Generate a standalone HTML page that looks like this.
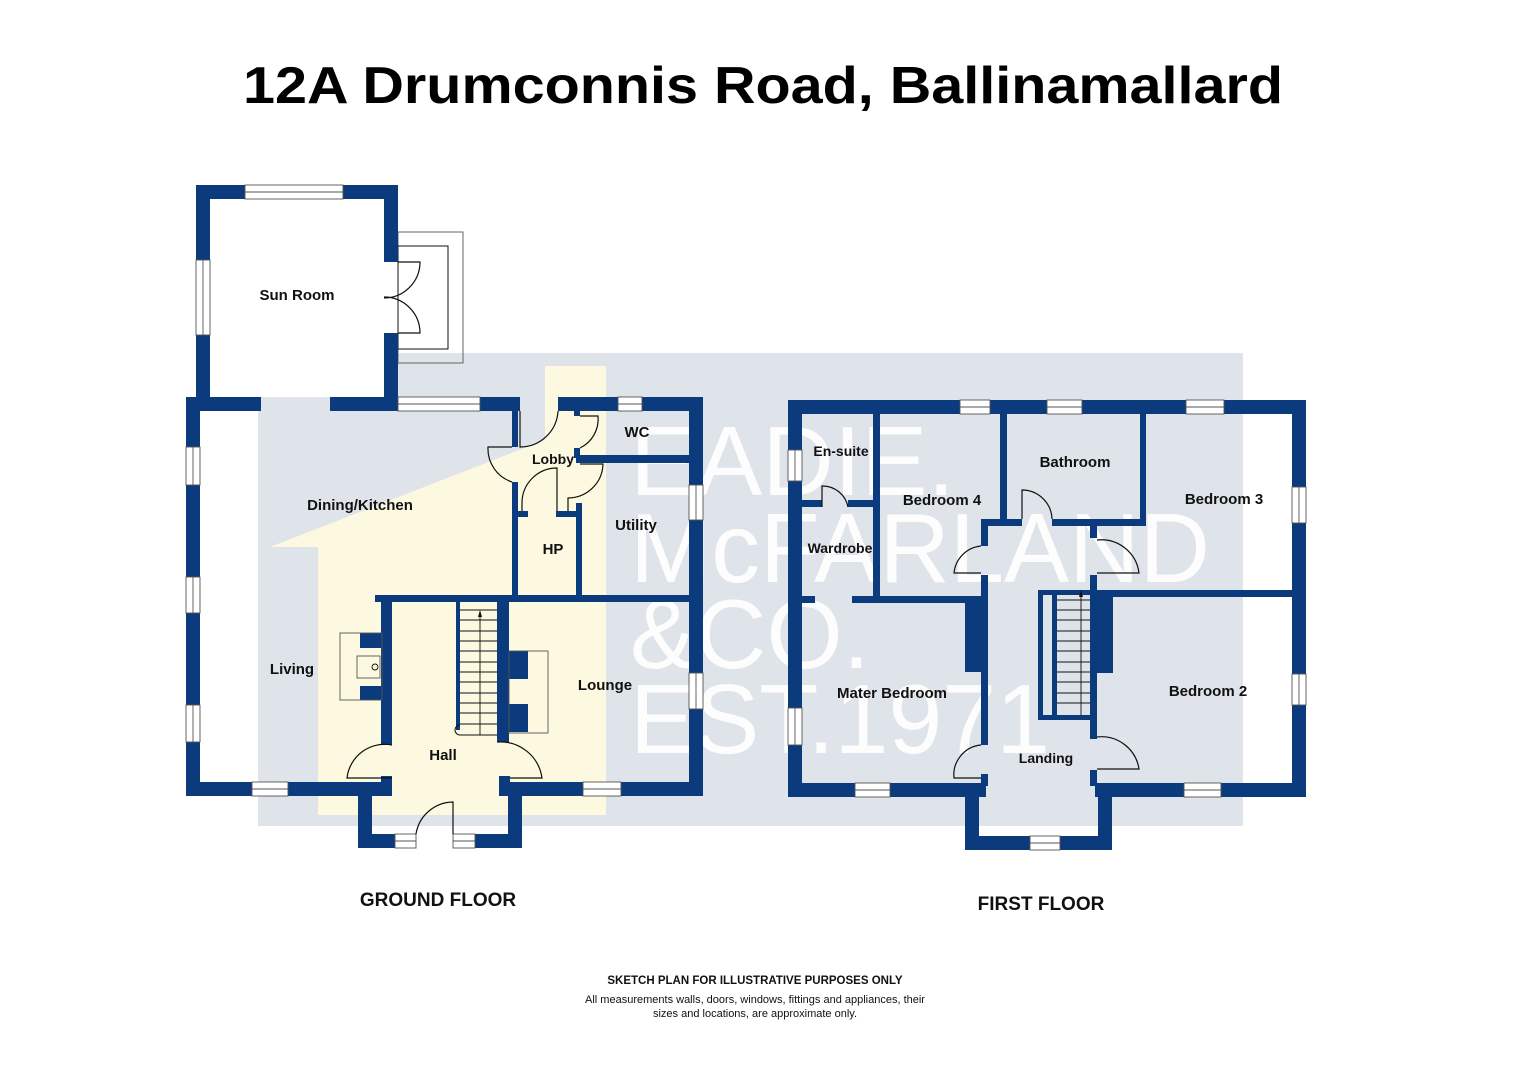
<!DOCTYPE html>
<html><head><meta charset="utf-8"><style>
html,body{margin:0;padding:0;background:#fff;}
svg{display:block;}
text{font-family:"Liberation Sans",Arial,sans-serif;}
</style></head><body>
<svg width="1528" height="1080" viewBox="0 0 1528 1080" xmlns="http://www.w3.org/2000/svg">
<rect width="1528" height="1080" fill="#fff"/>
<rect x="258" y="353" width="985" height="473" fill="#dfe3ea"/>
<polygon points="270,547 318,547 318,815 606,815 606,366 545,366 545,440" fill="#fdf9e1"/>
<rect x="210" y="199" width="174" height="198" fill="#fff"/>
<rect x="200" y="411" width="58" height="371" fill="#fff"/>
<rect x="1244" y="414" width="48" height="369" fill="#fff"/>
<g fill="#fff" font-size="98" opacity="0.95">
<text x="630" y="495" textLength="325" lengthAdjust="spacingAndGlyphs">EADIE.</text>
<text x="630" y="582" textLength="580" lengthAdjust="spacingAndGlyphs">McFARLAND</text>
<text x="630" y="668" textLength="240" lengthAdjust="spacingAndGlyphs">&amp;CO.</text>
<text x="630" y="753" textLength="420" lengthAdjust="spacingAndGlyphs">EST.1971</text>
</g>
<g fill="none" stroke="#666" stroke-width="1">
<rect x="398" y="232" width="65" height="131"/>
<rect x="398" y="246" width="50" height="103" stroke="#111"/>
</g>
<g fill="#0b3b7c">
<rect x="196" y="185" width="202" height="14"/>
<rect x="196" y="185" width="14" height="226"/>
<rect x="384" y="185" width="14" height="77"/>
<rect x="384" y="333" width="14" height="78"/>
<rect x="186" y="397" width="75" height="14"/>
<rect x="330" y="397" width="190" height="14"/>
<rect x="558" y="397" width="145" height="14"/>
<rect x="186" y="397" width="14" height="399"/>
<rect x="689" y="397" width="14" height="399"/>
<rect x="186" y="782" width="206" height="14"/>
<rect x="499" y="782" width="204" height="14"/>
<rect x="358" y="782" width="14" height="66"/>
<rect x="508" y="782" width="14" height="66"/>
<rect x="358" y="834" width="58" height="14"/>
<rect x="453" y="834" width="69" height="14"/>
<rect x="375" y="595" width="328" height="7"/>
<rect x="381" y="595" width="11" height="150"/>
<rect x="381" y="776" width="11" height="10"/>
<rect x="456" y="600" width="4" height="130"/>
<rect x="497" y="595" width="12" height="147"/>
<rect x="499" y="776" width="11" height="10"/>
<rect x="360" y="633" width="22" height="15"/>
<rect x="360" y="686" width="22" height="14"/>
<rect x="509" y="651" width="19" height="28"/>
<rect x="509" y="704" width="19" height="28"/>
<rect x="512" y="411" width="6" height="36"/>
<rect x="512" y="482" width="6" height="113"/>
<rect x="574" y="411" width="6" height="5"/>
<rect x="574" y="448" width="6" height="10"/>
<rect x="576" y="455" width="127" height="8"/>
<rect x="576" y="503" width="6" height="92"/>
<rect x="518" y="511" width="10" height="6"/>
<rect x="556" y="511" width="26" height="6"/>
<rect x="788" y="400" width="518" height="14"/>
<rect x="788" y="400" width="14" height="397"/>
<rect x="1292" y="400" width="14" height="397"/>
<rect x="788" y="783" width="198" height="14"/>
<rect x="1095" y="783" width="211" height="14"/>
<rect x="965" y="783" width="14" height="67"/>
<rect x="1098" y="783" width="14" height="67"/>
<rect x="965" y="836" width="147" height="14"/>
<rect x="873" y="414" width="7" height="189"/>
<rect x="802" y="500" width="20" height="7"/>
<rect x="848" y="500" width="32" height="7"/>
<rect x="802" y="596" width="13" height="7"/>
<rect x="852" y="596" width="134" height="7"/>
<rect x="1000" y="414" width="7" height="112"/>
<rect x="981" y="519" width="41" height="7"/>
<rect x="1052" y="519" width="94" height="7"/>
<rect x="1140" y="414" width="6" height="112"/>
<rect x="981" y="519" width="7" height="27"/>
<rect x="981" y="575" width="7" height="170"/>
<rect x="965" y="600" width="22" height="72"/>
<rect x="981" y="774" width="7" height="12"/>
<rect x="1090" y="526" width="7" height="12"/>
<rect x="1090" y="575" width="7" height="164"/>
<rect x="1097" y="596" width="16" height="77"/>
<rect x="1090" y="770" width="7" height="16"/>
<rect x="1096" y="590" width="196" height="7"/>
<rect x="1038" y="590" width="52" height="5"/>
<rect x="1038" y="590" width="5" height="130"/>
<rect x="1038" y="715" width="52" height="5"/>
<rect x="1052" y="593" width="5" height="124"/>
</g>
<g fill="#fff" stroke="#555" stroke-width="0.9">
<rect x="245" y="185" width="98" height="14"/><line x1="245" y1="192" x2="343" y2="192"/>
<rect x="196" y="260" width="14" height="75"/><line x1="203" y1="260" x2="203" y2="335"/>
<rect x="398" y="397" width="82" height="14"/><line x1="398" y1="404" x2="480" y2="404"/>
<rect x="618" y="397" width="24" height="14"/><line x1="618" y1="404" x2="642" y2="404"/>
<rect x="186" y="447" width="14" height="38"/><line x1="193" y1="447" x2="193" y2="485"/>
<rect x="186" y="577" width="14" height="36"/><line x1="193" y1="577" x2="193" y2="613"/>
<rect x="186" y="705" width="14" height="37"/><line x1="193" y1="705" x2="193" y2="742"/>
<rect x="252" y="782" width="36" height="14"/><line x1="252" y1="789" x2="288" y2="789"/>
<rect x="583" y="782" width="38" height="14"/><line x1="583" y1="789" x2="621" y2="789"/>
<rect x="689" y="485" width="14" height="35"/><line x1="696" y1="485" x2="696" y2="520"/>
<rect x="689" y="673" width="14" height="36"/><line x1="696" y1="673" x2="696" y2="709"/>
<rect x="395" y="834" width="21" height="14"/><line x1="395" y1="841" x2="416" y2="841"/>
<rect x="453" y="834" width="22" height="14"/><line x1="453" y1="841" x2="475" y2="841"/>
<rect x="960" y="400" width="30" height="14"/><line x1="960" y1="407" x2="990" y2="407"/>
<rect x="1047" y="400" width="35" height="14"/><line x1="1047" y1="407" x2="1082" y2="407"/>
<rect x="1186" y="400" width="38" height="14"/><line x1="1186" y1="407" x2="1224" y2="407"/>
<rect x="788" y="450" width="14" height="31"/><line x1="795" y1="450" x2="795" y2="481"/>
<rect x="788" y="708" width="14" height="37"/><line x1="795" y1="708" x2="795" y2="745"/>
<rect x="1292" y="487" width="14" height="36"/><line x1="1299" y1="487" x2="1299" y2="523"/>
<rect x="1292" y="674" width="14" height="31"/><line x1="1299" y1="674" x2="1299" y2="705"/>
<rect x="855" y="783" width="35" height="14"/><line x1="855" y1="790" x2="890" y2="790"/>
<rect x="1184" y="783" width="37" height="14"/><line x1="1184" y1="790" x2="1221" y2="790"/>
<rect x="1030" y="836" width="30" height="14"/><line x1="1030" y1="843" x2="1060" y2="843"/>
</g>
<g fill="none" stroke="#111" stroke-width="1.2">
<path d="M398,262 H420 A36,36 0 0 1 384,298"/>
<path d="M398,333 H420 A36,36 0 0 0 384,297"/>
<path d="M520,411 V447 A38,38 0 0 0 558,411"/>
<path d="M512,447 H488 A35,35 0 0 0 512,482"/>
<path d="M580,416 H598 A32,32 0 0 1 580,448"/>
<path d="M580,464 H603 A35,35 0 0 1 568,498 V511"/>
<path d="M522,511 V503 A35,35 0 0 1 557,468 V511"/>
<path d="M392,745 A38,38 0 0 0 347,778 H392"/>
<path d="M497,742 A42,42 0 0 1 542,778 H510"/>
<path d="M453,834 V802 A38,38 0 0 0 416,834"/>
<path d="M822,507 V486 A26,26 0 0 1 848,507"/>
<path d="M1022,519 V490 A30,30 0 0 1 1052,519"/>
<path d="M981,546 A30,30 0 0 0 954,573 H981"/>
<path d="M1097,540 A38,38 0 0 1 1139,573 H1097"/>
<path d="M981,745 A30,30 0 0 0 954,778 H981"/>
<path d="M1097,737 A38,38 0 0 1 1139,769 H1097"/>
<rect x="340" y="633" width="42" height="67" stroke="#555" stroke-width="0.9"/>
<rect x="357" y="656" width="23" height="22" stroke="#555" stroke-width="0.9"/>
<circle cx="375" cy="667" r="3" stroke-width="0.9"/>
<rect x="509" y="651" width="39" height="82" stroke="#555" stroke-width="0.9"/>
<path d="M460,725 A5,5 0 0 0 460,735 H497" stroke-width="1"/>
</g>
<g stroke="#111" stroke-width="0.9">
<line x1="460" y1="610" x2="497" y2="610"/><line x1="460" y1="620" x2="497" y2="620"/>
<line x1="460" y1="631" x2="497" y2="631"/><line x1="460" y1="641" x2="497" y2="641"/>
<line x1="460" y1="651" x2="497" y2="651"/><line x1="460" y1="662" x2="497" y2="662"/>
<line x1="460" y1="672" x2="497" y2="672"/><line x1="460" y1="682" x2="497" y2="682"/>
<line x1="460" y1="693" x2="497" y2="693"/><line x1="460" y1="703" x2="497" y2="703"/>
<line x1="460" y1="713" x2="497" y2="713"/><line x1="460" y1="724" x2="497" y2="724"/>
<line x1="480" y1="614" x2="480" y2="735"/>
<line x1="1057" y1="600" x2="1090" y2="600"/><line x1="1057" y1="610" x2="1090" y2="610"/>
<line x1="1057" y1="620" x2="1090" y2="620"/><line x1="1057" y1="631" x2="1090" y2="631"/>
<line x1="1057" y1="641" x2="1090" y2="641"/><line x1="1057" y1="651" x2="1090" y2="651"/>
<line x1="1057" y1="662" x2="1090" y2="662"/><line x1="1057" y1="672" x2="1090" y2="672"/>
<line x1="1057" y1="682" x2="1090" y2="682"/><line x1="1057" y1="693" x2="1090" y2="693"/>
<line x1="1057" y1="703" x2="1090" y2="703"/>
<line x1="1081" y1="594" x2="1081" y2="715"/>
</g>
<polygon points="480,610 478,617 482,617" fill="#111"/>
<polygon points="1081,590 1079,597 1083,597" fill="#111"/>
<text x="763" y="103" font-size="52" font-weight="bold" text-anchor="middle" textLength="1040" lengthAdjust="spacingAndGlyphs">12A Drumconnis Road, Ballinamallard</text>
<g font-size="15" font-weight="bold" fill="#111" text-anchor="middle">
<text x="297" y="300">Sun Room</text>
<text x="360" y="510">Dining/Kitchen</text>
<text x="553" y="464" font-size="14">Lobby</text>
<text x="637" y="437">WC</text>
<text x="636" y="530">Utility</text>
<text x="553" y="554">HP</text>
<text x="292" y="674">Living</text>
<text x="605" y="690">Lounge</text>
<text x="443" y="760">Hall</text>
<text x="841" y="456" font-size="14">En-suite</text>
<text x="840" y="553" font-size="14">Wardrobe</text>
<text x="942" y="505">Bedroom 4</text>
<text x="1075" y="467">Bathroom</text>
<text x="1224" y="504">Bedroom 3</text>
<text x="892" y="698">Mater Bedroom</text>
<text x="1208" y="696">Bedroom 2</text>
<text x="1046" y="763" font-size="14">Landing</text>
<text x="438" y="906" font-size="19">GROUND FLOOR</text>
<text x="1041" y="910" font-size="19">FIRST FLOOR</text>
<text x="755" y="984" font-size="11.5">SKETCH PLAN FOR ILLUSTRATIVE PURPOSES ONLY</text>
<text x="755" y="1003" font-size="11" font-weight="normal">All measurements walls, doors, windows, fittings and appliances, their</text>
<text x="755" y="1017" font-size="11" font-weight="normal">sizes and locations, are approximate only.</text>
</g>
</svg>
</body></html>
